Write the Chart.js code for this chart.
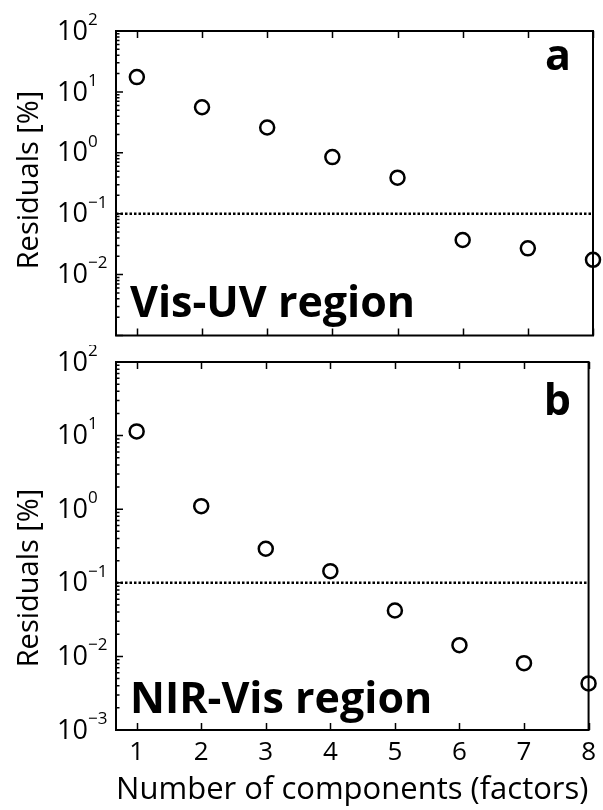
<!DOCTYPE html>
<html>
<head>
<meta charset="utf-8">
<script src="https://cdn.jsdelivr.net/npm/chart.js@4/dist/chart.umd.min.js"></script>
<style>
  html, body { margin: 0; padding: 0; background: #fff; }
  #wrap { position: relative; width: 603px; height: 810px; }
  canvas { position: absolute; left: 0; }
  #top { top: 0; }
  #bottom { top: 345px; }
</style>
</head>
<body>
<div id="wrap">
  <canvas id="top" width="603" height="345"></canvas>
  <canvas id="bottom" width="603" height="465"></canvas>
</div>
<script>
// number of components (factors)
var components = [1, 2, 3, 4, 5, 6, 7, 8];
// residuals [%], panel a (Vis-UV) and panel b (NIR-Vis)
var visUvResiduals = [17.5, 5.6, 2.6, 0.85, 0.39, 0.037, 0.027, 0.0175];
var nirVisResiduals = [11.4, 1.1, 0.29, 0.144, 0.042, 0.0142, 0.0081, 0.0043];
var threshold = 0.1;
// labelled decades on the y axes
var topDecades = [-2, -1, 0, 1, 2];
var bottomDecades = [-3, -2, -1, 0, 1, 2];
var xMin = 0.68, xMax = 8;

var FONT = "'Open Sans', 'DejaVu Sans', sans-serif";

var framePlugin = {
    id: 'frame',
    afterDatasetsDraw: function (chart, args, opts) {
        var ctx = chart.ctx, a = chart.chartArea;
        var x = chart.scales.x, y = chart.scales.y;
        ctx.save();
        ctx.strokeStyle = '#000';
        ctx.lineWidth = 2;
        ctx.strokeRect(a.left, a.top, a.right - a.left, a.bottom - a.top);

        // inward ticks
        ctx.lineWidth = 1.5;
        ctx.beginPath();
        components.forEach(function (v) {
            var px = Math.round(x.getPixelForValue(v)) + 0.5;
            ctx.moveTo(px, a.bottom); ctx.lineTo(px, a.bottom - 7);
            ctx.moveTo(px, a.top); ctx.lineTo(px, a.top + 7);
        });
        var lo = Math.log10(y.min), hi = Math.log10(y.max);
        for (var d = lo; d <= hi; d++) {
            var py = y.getPixelForValue(Math.pow(10, d));
            ctx.moveTo(a.left, py); ctx.lineTo(a.left + 7, py);
            if (d < hi) {
                for (var m = 2; m <= 9; m++) {
                    var pm = y.getPixelForValue(m * Math.pow(10, d));
                    ctx.moveTo(a.left, pm); ctx.lineTo(a.left + 3.5, pm);
                }
            }
        }
        ctx.stroke();

        // y tick labels 10^n
        ctx.fillStyle = '#000';
        ctx.textBaseline = 'middle';
        opts.decades.forEach(function (d) {
            var py = y.getPixelForValue(Math.pow(10, d));
            ctx.font = '27px ' + FONT;
            ctx.textAlign = 'right';
            ctx.fillText('10', 88, py + 1);
            ctx.font = '17px ' + FONT;
            ctx.textAlign = 'left';
            ctx.fillText(String(d).replace('-', '\u2212'), 88, py - 11);
        });

        // y title
        ctx.save();
        ctx.translate(30, opts.titleY);
        ctx.rotate(-Math.PI / 2);
        ctx.textAlign = 'center';
        ctx.font = '29px ' + FONT;
        ctx.fillText('Residuals [%]', 0, 0);
        ctx.restore();

        // region label and panel letter
        ctx.textBaseline = 'alphabetic';
        ctx.textAlign = 'left';
        ctx.font = 'bold 43px ' + FONT;
        ctx.fillText(opts.region, 130, opts.regionY);
        ctx.textAlign = 'right';
        ctx.fillText(opts.letter, 571, opts.letterY);
        ctx.restore();
    }
};

function makePanel(canvasId, values, decades, withXLabels, decor) {
    var ctx = document.getElementById(canvasId).getContext('2d');
    return new Chart(ctx, {
        type: 'scatter',
        data: {
            datasets: [{
                data: components.map(function (c, i) { return {x: c, y: values[i]}; }),
                pointStyle: 'circle',
                pointRadius: 7,
                borderWidth: 2.5,
                borderColor: '#000',
                backgroundColor: 'rgba(0,0,0,0)',
                clip: false
            }, {
                type: 'line',
                data: [{x: xMin, y: threshold}, {x: xMax, y: threshold}],
                borderColor: '#000',
                borderWidth: 2.5,
                borderDash: [2.5, 2],
                pointRadius: 0,
                fill: false
            }]
        },
        options: {
            responsive: false,
            animation: false,
            layout: {padding: {top: decor.padTop, right: 10, left: 0, bottom: 0}},
            plugins: {legend: {display: false}, tooltip: {enabled: false}, frame: decor},
            scales: {
                x: {
                    type: 'linear', min: xMin, max: xMax,
                    grid: {display: false, drawTicks: false},
                    border: {display: false},
                    afterBuildTicks: function (s) { s.ticks = components.map(function (v) { return {value: v}; }); },
                    afterFit: function (s) { s.height = decor.xHeight; },
                    ticks: {display: withXLabels, padding: 7, color: '#000', font: {family: FONT, size: 26}},
                    title: {
                        display: withXLabels, text: 'Number of components (factors)', color: '#000',
                        font: {family: FONT, size: 31}, padding: {top: 0, bottom: 1}
                    }
                },
                y: {
                    type: 'logarithmic',
                    min: Math.pow(10, decor.yMin), max: 100,
                    grid: {display: false},
                    border: {display: false},
                    ticks: {display: false},
                    afterFit: function (s) { s.width = 116; }
                }
            }
        },
        plugins: [framePlugin]
    });
}

makePanel('top', visUvResiduals, topDecades, false, {
    decades: topDecades, yMin: -3, padTop: 31, xHeight: 8,
    titleY: 180, region: 'Vis-UV region', regionY: 317, letter: 'a', letterY: 70
});
makePanel('bottom', nirVisResiduals, bottomDecades, true, {
    decades: bottomDecades, yMin: -3, padTop: 17, xHeight: 80,
    titleY: 233, region: 'NIR-Vis region', regionY: 368, letter: 'b', letterY: 70
});
</script>
</body>
</html>
